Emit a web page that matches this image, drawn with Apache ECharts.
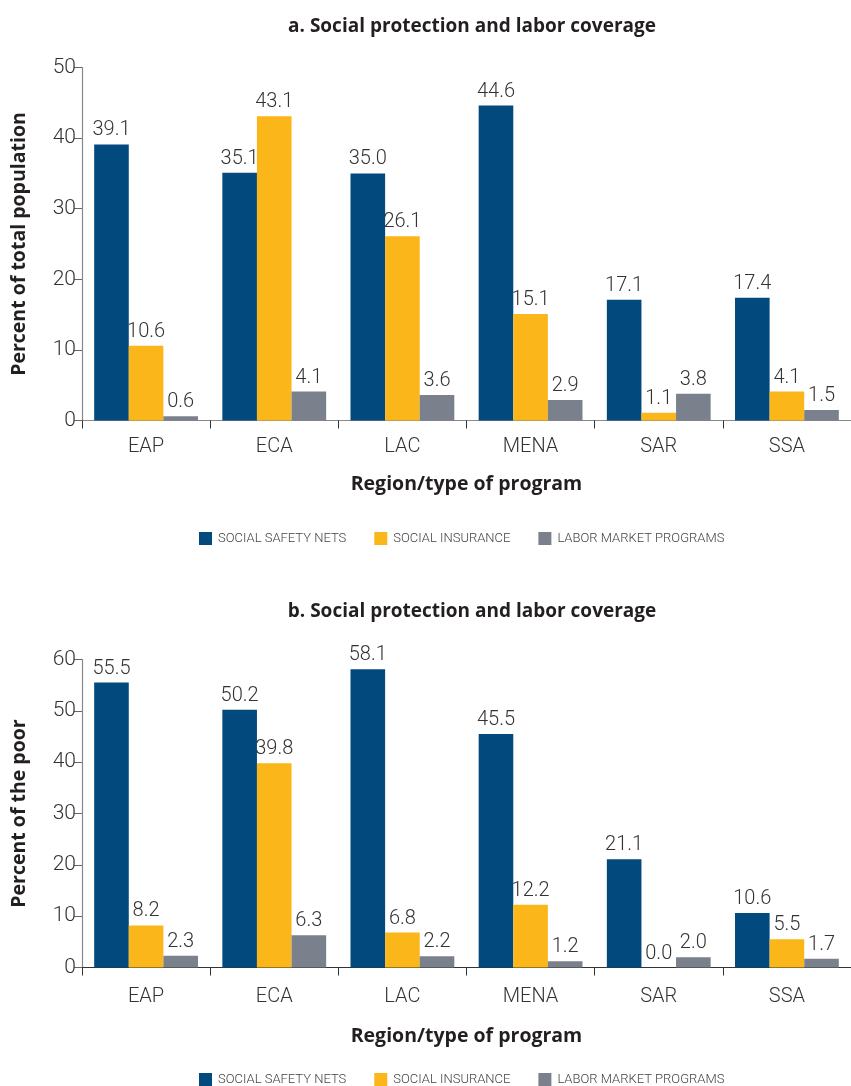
<!DOCTYPE html>
<html>
<head>
<meta charset="utf-8">
<script src="https://cdn.jsdelivr.net/npm/echarts@6/dist/echarts.min.js"></script>
<style>
html,body{margin:0;padding:0;background:#fff;}
#chart{width:851px;height:1086px;}
</style>
</head>
<body>
<div id="chart"></div>
<script>
const categories = ['EAP', 'ECA', 'LAC', 'MENA', 'SAR', 'SSA'];
const seriesNames = ['SOCIAL SAFETY NETS', 'SOCIAL INSURANCE', 'LABOR MARKET PROGRAMS'];

// Panel a: percent of total population
const popSafetyNets = [39.1, 35.1, 35.0, 44.6, 17.1, 17.4];
const popInsurance = [10.6, 43.1, 26.1, 15.1, 1.1, 4.1];
const popLabor = [0.6, 4.1, 3.6, 2.9, 3.8, 1.5];

// Panel b: percent of the poor
const poorSafetyNets = [55.5, 50.2, 58.1, 45.5, 21.1, 10.6];
const poorInsurance = [8.2, 39.8, 6.8, 12.2, 0.0, 5.5];
const poorLabor = [2.3, 6.3, 2.2, 1.2, 2.0, 1.7];

const titleA = 'a. Social protection and labor coverage';
const titleB = 'b. Social protection and labor coverage';
const xName = 'Region/type of program';
const yNameA = 'Percent of total population';
const yNameB = 'Percent of the poor';

const colors = ['#02497e', '#fbb619', '#7a808c'];
const numFont = 'Roboto';
const boldFont = 'Open Sans';

function makeSeries(name, data, idx, colorIdx) {
  return {
    name: name,
    type: 'bar',
    xAxisIndex: idx,
    yAxisIndex: idx,
    data: data,
    barGap: '0%',
    barCategoryGap: '19%',
    itemStyle: { color: colors[colorIdx] },
    label: {
      show: true,
      position: 'top',
      distance: 4,
      color: '#333',
      fontFamily: numFont,
      fontWeight: 300,
      fontSize: 20,
      formatter: p => Number(p.value).toFixed(1)
    }
  };
}

function xAxis(idx, lineColor, labelMargin, nameGap) {
  return {
    type: 'category',
    gridIndex: idx,
    data: categories,
    axisLine: { show: true, lineStyle: { color: lineColor, width: 1.2 } },
    axisTick: { show: true, length: 8, lineStyle: { color: '#333' } },
    axisLabel: { color: '#333', fontFamily: numFont, fontWeight: 300, fontSize: 20, margin: labelMargin },
    name: xName,
    nameLocation: 'middle',
    nameGap: nameGap,
    nameTextStyle: { color: '#231f20', fontFamily: boldFont, fontWeight: 'bold', fontSize: 19.5 }
  };
}

function yAxis(idx, max, name) {
  return {
    type: 'value',
    gridIndex: idx,
    min: 0,
    max: max,
    interval: 10,
    splitLine: { show: false },
    axisLine: { show: true, lineStyle: { color: '#888', width: 1.2 } },
    axisTick: { show: true, length: 8, lineStyle: { color: '#666' } },
    axisLabel: { color: '#333', fontFamily: numFont, fontWeight: 300, fontSize: 21, margin: 6 },
    name: name,
    nameLocation: 'middle',
    nameRotate: 90,
    nameGap: 53,
    nameTextStyle: { color: '#231f20', fontFamily: boldFont, fontWeight: 'bold', fontSize: 19.5 }
  };
}

function legend(top) {
  return {
    data: seriesNames,
    left: 199,
    top: top,
    padding: 0,
    itemWidth: 13,
    itemHeight: 13,
    itemGap: 28,
    icon: 'rect',
    selectedMode: false,
    textStyle: { color: '#444', fontFamily: numFont, fontWeight: 300, fontSize: 13, padding: [0, 0, 0, 1] }
  };
}

const chart = echarts.init(document.getElementById('chart'), null, { renderer: 'canvas' });
chart.setOption({
  animation: false,
  backgroundColor: '#fff',
  title: [
    { text: titleA, left: 467, textAlign: 'center', top: 12,
      textStyle: { color: '#231f20', fontFamily: boldFont, fontWeight: 'bold', fontSize: 19 } },
    { text: titleB, left: 467, textAlign: 'center', top: 597,
      textStyle: { color: '#231f20', fontFamily: boldFont, fontWeight: 'bold', fontSize: 19 } }
  ],
  legend: [legend(532), legend(1073)],
  grid: [
    { left: 82, right: 0, top: 67.5, height: 353, containLabel: false },
    { left: 82, right: 0, top: 659.5, height: 308, containLabel: false }
  ],
  xAxis: [xAxis(0, '#888', 16, 54), xAxis(1, '#333', 19, 59)],
  yAxis: [yAxis(0, 50, yNameA), yAxis(1, 60, yNameB)],
  series: [
    makeSeries(seriesNames[0], popSafetyNets, 0, 0),
    makeSeries(seriesNames[1], popInsurance, 0, 1),
    makeSeries(seriesNames[2], popLabor, 0, 2),
    makeSeries(seriesNames[0], poorSafetyNets, 1, 0),
    makeSeries(seriesNames[1], poorInsurance, 1, 1),
    makeSeries(seriesNames[2], poorLabor, 1, 2)
  ]
});
</script>
</body>
</html>
